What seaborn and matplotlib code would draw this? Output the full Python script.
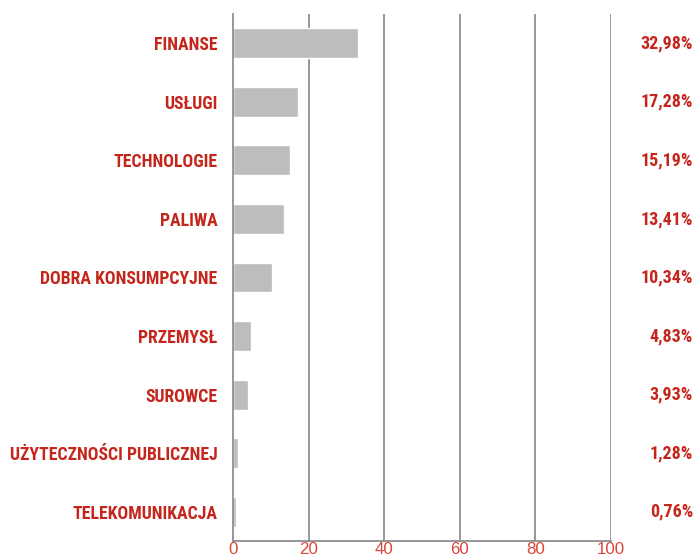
import matplotlib
matplotlib.use("Agg")
import matplotlib.pyplot as plt
from matplotlib import font_manager
from matplotlib.transforms import blended_transform_factory
import pandas as pd
import seaborn as sns

categories = ["FINANSE", "USŁUGI", "TECHNOLOGIE", "PALIWA", "DOBRA KONSUMPCYJNE",
              "PRZEMYSŁ", "SUROWCE", "UŻYTECZNOŚCI PUBLICZNEJ", "TELEKOMUNIKACJA"]
values = [32.98, 17.28, 15.19, 13.41, 10.34, 4.83, 3.93, 1.28, 0.76]
value_labels = ["32,98%", "17,28%", "15,19%", "13,41%", "10,34%", "4,83%", "3,93%", "1,28%", "0,76%"]
ticks = [0, 20, 40, 60, 80, 100]

red = "#c4261b"
tick_red = "#d9463a"
bar_grey = "#bcbdbf"
grid_grey = "#8f8f8f"

# condensed bold for labels, plain sans for the axis numbers
installed = {f.name for f in font_manager.fontManager.ttflist}
narrow = next((f for f in ["Roboto Condensed", "Archivo Narrow", "PT Sans Narrow",
                           "Liberation Sans Narrow", "Barlow Condensed"] if f in installed),
              "DejaVu Sans")
plain = next((f for f in ["Liberation Sans", "Arimo", "Roboto"] if f in installed), "DejaVu Sans")

sns.set_theme(style="white")
plt.rcParams['font.family'] = [plain, 'DejaVu Sans']

df = pd.DataFrame({"sector": categories, "share": values})

fig = plt.figure(figsize=(6.97, 5.57), dpi=100)
ax = fig.add_axes([233 / 697, 16 / 557, 378 / 697, 527 / 557])

sns.barplot(data=df, x="share", y="sector", color=bar_grey, width=0.51,
            saturation=1, ax=ax, zorder=1)

ax.set_xlim(0, 100)
ax.set_ylim(8.5, -0.5)
ax.set_xticks(ticks)
ax.set_xticklabels([str(t) for t in ticks], color=tick_red, fontsize=12.2)
ax.tick_params(axis="x", length=0, pad=1)
ax.tick_params(axis="y", length=0, pad=11)
for t in ax.get_yticklabels():
    t.set_family([narrow, 'DejaVu Sans'])
    t.set_fontweight("bold")
    t.set_fontsize(12.8)
    t.set_color(red)

for x in ticks[1:]:
    ax.axvline(x, color=grid_grey, lw=1.3, zorder=0)

for s in ["top", "right"]:
    ax.spines[s].set_visible(False)
for s in ["left", "bottom"]:
    ax.spines[s].set_color(grid_grey)
    ax.spines[s].set_linewidth(1.3)

# percentages in a column at the right edge of the figure
trans = blended_transform_factory(fig.transFigure, ax.transData)
for i, lab in enumerate(value_labels):
    ax.text(693 / 697, i, lab, transform=trans, ha="right", va="center",
            color=red, fontweight="bold", fontsize=13, family=[narrow, 'DejaVu Sans'])

ax.set_xlabel("")
ax.set_ylabel("")

fig.savefig("out.png", dpi=100)
